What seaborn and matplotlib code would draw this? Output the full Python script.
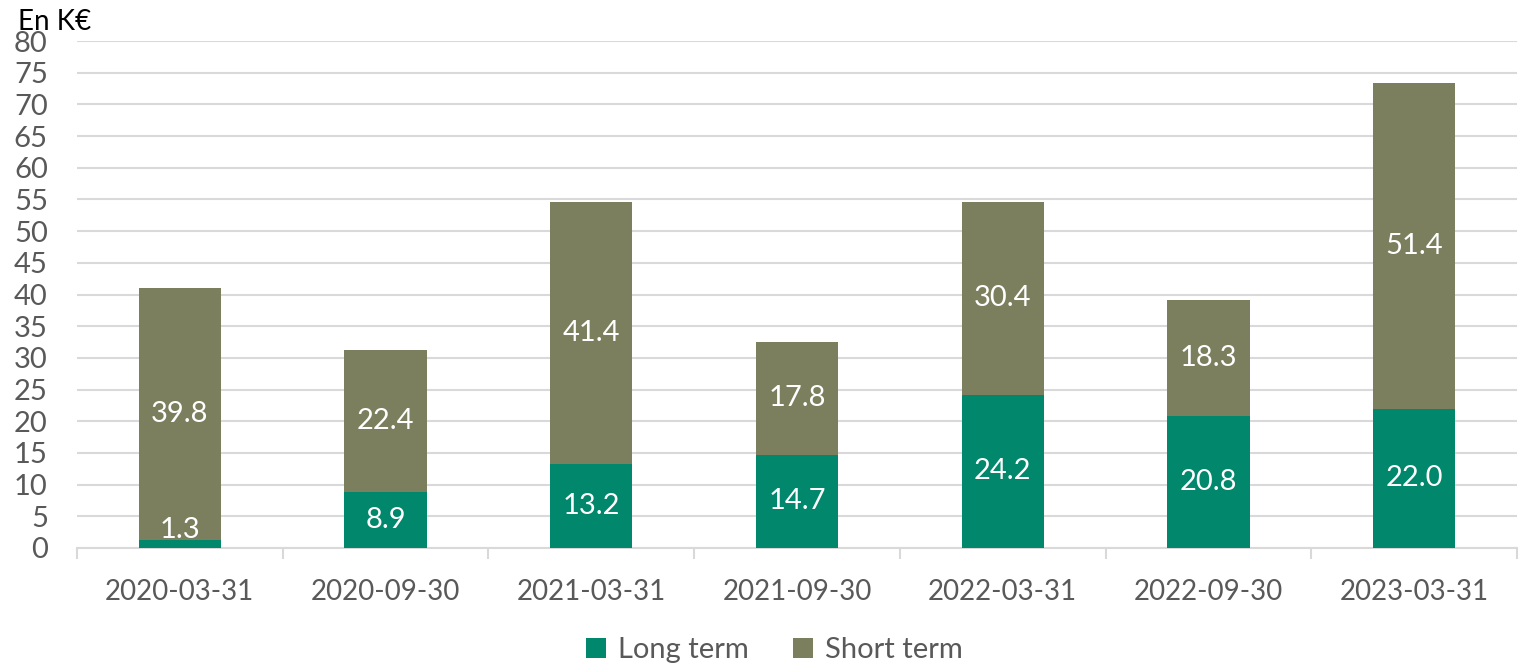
import matplotlib
matplotlib.use("Agg")
import matplotlib.pyplot as plt
import seaborn as sns
import pandas as pd
import numpy as np
from matplotlib.patches import Patch

categories = ["2020-03-31", "2020-09-30", "2021-03-31", "2021-09-30",
              "2022-03-31", "2022-09-30", "2023-03-31"]
long_term = [1.3, 8.9, 13.2, 14.7, 24.2, 20.8, 22.0]
short_term = [39.8, 22.4, 41.4, 17.8, 30.4, 18.3, 51.4]
series_names = ["Long term", "Short term"]
unit_label = "En K€"

c_long = "#00876C"
c_short = "#7B7F5E"
grey_txt = "#595959"
grid_c = "#D9D9D9"

sns.set_theme(style="white")
plt.rcParams["font.family"] = ["Lato", "DejaVu Sans"]

df = pd.DataFrame({"cat": categories, "long": long_term, "short": short_term})
df["total"] = df["long"] + df["short"]

fig = plt.figure(figsize=(15.24, 6.67), dpi=100)
ax = fig.add_axes([77/1524, 1-548/667, (1517-77)/1524, (548-41)/667])

sns.barplot(data=df, x="cat", y="total", color=c_short, width=0.40, ax=ax,
            saturation=1, edgecolor="none", zorder=2)
sns.barplot(data=df, x="cat", y="long", color=c_long, width=0.40, ax=ax,
            saturation=1, edgecolor="none", zorder=3)

for i, (l, s) in enumerate(zip(long_term, short_term)):
    ax.text(i, max(l / 2, 2.8), f"{l:.1f}", ha="center", va="center", color="white",
            fontsize=21, zorder=5)
    ax.text(i, l + s / 2, f"{s:.1f}", ha="center", va="center", color="white",
            fontsize=21, zorder=5)

ax.set_ylim(0, 80)
ax.set_yticks(np.arange(0, 81, 5))
ax.set_xlim(-0.5, len(categories) - 0.5)
ax.yaxis.grid(True, color=grid_c, linewidth=1.5, zorder=0)
ax.set_axisbelow(True)
for sp in ["left", "right", "top"]:
    ax.spines[sp].set_visible(False)
ax.spines["bottom"].set_color(grid_c)
ax.spines["bottom"].set_linewidth(1.5)
ax.set_xlabel("")
ax.set_ylabel("")
ax.tick_params(axis="y", length=0, pad=21, labelsize=21, labelcolor=grey_txt)
ax.tick_params(axis="x", which="major", length=0, pad=22, labelsize=20,
               labelcolor=grey_txt)
ax.set_xticks(np.arange(-0.5, len(categories) + 0.5, 1), minor=True)
ax.tick_params(axis="x", which="minor", length=8, width=1.5, color=grid_c,
               direction="out")
ax.xaxis.set_tick_params(which="minor", bottom=True)

fig.text(18/1524, 1-22/667, unit_label, ha="left", va="center", fontsize=20,
         color="black")

handles = [Patch(facecolor=c_long, edgecolor="none"),
           Patch(facecolor=c_short, edgecolor="none")]
fig.legend(handles, series_names, loc="center", bbox_to_anchor=(0.508, 1-650/667),
           ncol=2, frameon=False, fontsize=21, handlelength=0.7, handleheight=0.7,
           handletextpad=0.4, columnspacing=1.5, labelcolor=grey_txt)

fig.savefig("out.png", dpi=100)
